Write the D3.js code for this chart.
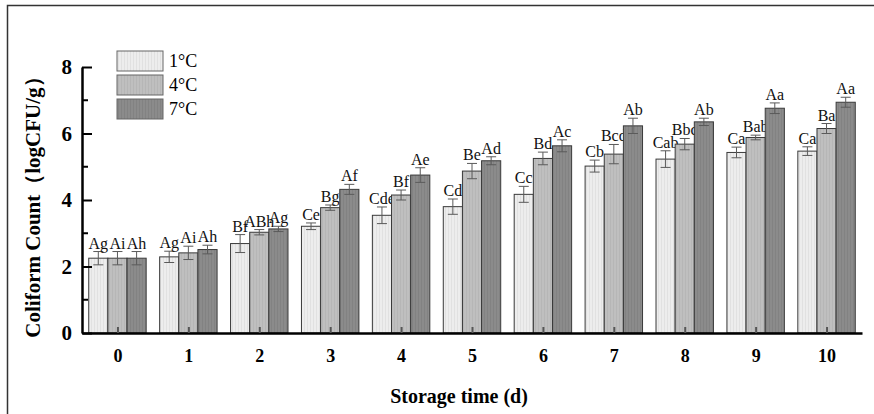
<!DOCTYPE html>
<html>
<head>
<script src="https://cdn.jsdelivr.net/npm/d3@7"></script>
<style>
  body { margin: 0; background: #fff; }
  svg { display: block; }
  text { font-family: "Liberation Serif", "Times New Roman", serif; }
</style>
</head>
<body>
<svg width="874" height="414"></svg>
<script>
// storage days
const days = [0, 1, 2, 3, 4, 5, 6, 7, 8, 9, 10];
const temps = ["1°C", "4°C", "7°C"];

// mean coliform counts (logCFU/g)
const mean1 = [2.25, 2.29, 2.69, 3.21, 3.54, 3.80, 4.17, 5.02, 5.23, 5.43, 5.47];
const mean4 = [2.25, 2.41, 3.03, 3.77, 4.15, 4.87, 5.25, 5.38, 5.68, 5.88, 6.15];
const mean7 = [2.25, 2.51, 3.13, 4.32, 4.75, 5.18, 5.63, 6.23, 6.35, 6.76, 6.94];

// error bar half-widths
const err1 = [0.20, 0.17, 0.27, 0.10, 0.25, 0.23, 0.24, 0.18, 0.25, 0.16, 0.13];
const err4 = [0.20, 0.20, 0.08, 0.08, 0.15, 0.23, 0.19, 0.29, 0.17, 0.07, 0.15];
const err7 = [0.20, 0.13, 0.08, 0.15, 0.22, 0.12, 0.18, 0.23, 0.11, 0.16, 0.15];

// significance letters
const sig1 = ["Ag", "Ag", "Bf", "Ce", "Cde", "Cd", "Cc", "Cb", "Cab", "Ca", "Ca"];
const sig4 = ["Ai", "Ai", "ABh", "Bg", "Bf", "Be", "Bd", "Bcd", "Bbc", "Bab", "Ba"];
const sig7 = ["Ah", "Ah", "Ag", "Af", "Ae", "Ad", "Ac", "Ab", "Ab", "Aa", "Aa"];

const yTicks = [0, 2, 4, 6, 8];

const series = [
  { name: temps[0], mean: mean1, err: err1, sig: sig1, fill: "#ededed", stripe: "#d6d6d6" },
  { name: temps[1], mean: mean4, err: err4, sig: sig4, fill: "#bfbfbf", stripe: "#adadad" },
  { name: temps[2], mean: mean7, err: err7, sig: sig7, fill: "#8b8b8b", stripe: "#7a7a7a" }
];

const svg = d3.select("svg");

// outer frame (only top/left visible)
svg.append("rect")
  .attr("x", 7.5).attr("y", 5.5)
  .attr("width", 1000).attr("height", 1000)
  .attr("fill", "none").attr("stroke", "#333").attr("stroke-width", 1.5);

// stripe patterns
const defs = svg.append("defs");
series.forEach((s, i) => {
  const p = defs.append("pattern")
    .attr("id", "pat" + i)
    .attr("patternUnits", "userSpaceOnUse")
    .attr("width", 3).attr("height", 3);
  p.append("rect").attr("width", 3).attr("height", 3).attr("fill", s.fill);
  p.append("rect").attr("x", 1).attr("width", 1).attr("height", 3).attr("fill", s.stripe).attr("opacity", 0.5);
});

const plotL = 82, plotR = 862, plotT = 67, plotB = 333;

const x = d3.scaleLinear().domain([-0.5, 10.5]).range([plotL, plotR]);
const y = d3.scaleLinear().domain([0, 8]).range([plotB, plotT]);

const groupW = 0.81;
const barW = groupW / 3;

const g = svg.append("g");

series.forEach((s, i) => {
  const off = -groupW / 2 + i * barW;
  const gs = g.append("g");
  gs.selectAll("rect")
    .data(days)
    .join("rect")
    .attr("x", d => x(d + off))
    .attr("y", (d, j) => y(s.mean[j]))
    .attr("width", x(barW) - x(0))
    .attr("height", (d, j) => y(0) - y(s.mean[j]))
    .attr("fill", "url(#pat" + i + ")")
    .attr("stroke", "#3a3a3a")
    .attr("stroke-width", 1);

  // error bars
  const cx = d => x(d + off + barW / 2);
  const eb = gs.selectAll("g.eb")
    .data(days)
    .join("g")
    .attr("class", "eb")
    .attr("stroke", "#5a5a5a")
    .attr("stroke-width", 1);
  eb.append("line")
    .attr("x1", cx).attr("x2", cx)
    .attr("y1", (d, j) => y(s.mean[j] - s.err[j]))
    .attr("y2", (d, j) => y(s.mean[j] + s.err[j]));
  eb.append("line")
    .attr("x1", d => cx(d) - 5).attr("x2", d => cx(d) + 5)
    .attr("y1", (d, j) => y(s.mean[j] + s.err[j]))
    .attr("y2", (d, j) => y(s.mean[j] + s.err[j]));
  eb.append("line")
    .attr("x1", d => cx(d) - 5).attr("x2", d => cx(d) + 5)
    .attr("y1", (d, j) => y(s.mean[j] - s.err[j]))
    .attr("y2", (d, j) => y(s.mean[j] - s.err[j]));

  // letters
  gs.selectAll("text")
    .data(days)
    .join("text")
    .attr("x", cx)
    .attr("y", (d, j) => y(s.mean[j] + s.err[j]) - 3)
    .attr("text-anchor", "middle")
    .style("font-size", "16px")
    .attr("fill", "#111")
    .text((d, j) => s.sig[j]);
});

// x axis (ticks pointing inward)
const xAxis = svg.append("g")
  .attr("transform", `translate(0,${plotB})`)
  .call(d3.axisBottom(x).tickValues(days).tickSizeInner(-6).tickSizeOuter(0).tickPadding(16));
xAxis.attr("font-family", null);
xAxis.select(".domain").attr("stroke", "#000").attr("stroke-width", 2.5);
xAxis.selectAll(".tick line").attr("stroke", "#555").attr("stroke-width", 2);
xAxis.selectAll("text")
  .style("font-weight", "bold").style("font-size", "18px").attr("fill", "#000");

// y axis
const yAxis = svg.append("g")
  .attr("transform", `translate(${plotL},0)`)
  .call(d3.axisLeft(y).tickValues(yTicks).tickSizeInner(-10).tickSizeOuter(0).tickPadding(10));
yAxis.attr("font-family", null);
yAxis.select(".domain").attr("stroke", "#000").attr("stroke-width", 2.5);
yAxis.selectAll(".tick line").attr("stroke", "#000").attr("stroke-width", 2);
yAxis.selectAll("text")
  .style("font-weight", "bold").style("font-size", "21px").attr("fill", "#000");
yAxis.selectAll(".minor")
  .data([1, 3, 5, 7])
  .join("line")
  .attr("class", "minor")
  .attr("x1", 0).attr("x2", 6)
  .attr("y1", d => y(d)).attr("y2", d => y(d))
  .attr("stroke", "#000").attr("stroke-width", 2);

// axis titles
svg.append("text")
  .attr("transform", `translate(40,${(plotT + plotB) / 2 + 2}) rotate(-90)`)
  .attr("text-anchor", "middle")
  .style("font-weight", "bold").style("font-size", "21px")
  .text("Coliform Count（logCFU/g）");

svg.append("text")
  .attr("x", 459).attr("y", 403)
  .attr("text-anchor", "middle")
  .style("font-weight", "bold").style("font-size", "20px")
  .text("Storage time (d)");

// legend
const legend = svg.append("g").attr("transform", "translate(117,51)");
series.forEach((s, i) => {
  const row = legend.append("g").attr("transform", `translate(0,${i * 24})`);
  row.append("rect")
    .attr("width", 46).attr("height", 20)
    .attr("fill", "url(#pat" + i + ")")
    .attr("stroke", "#666").attr("stroke-width", 1);
  row.append("text")
    .attr("x", 52).attr("y", 16)
    .style("font-size", "18px")
    .text(s.name);
});
</script>
</body>
</html>
